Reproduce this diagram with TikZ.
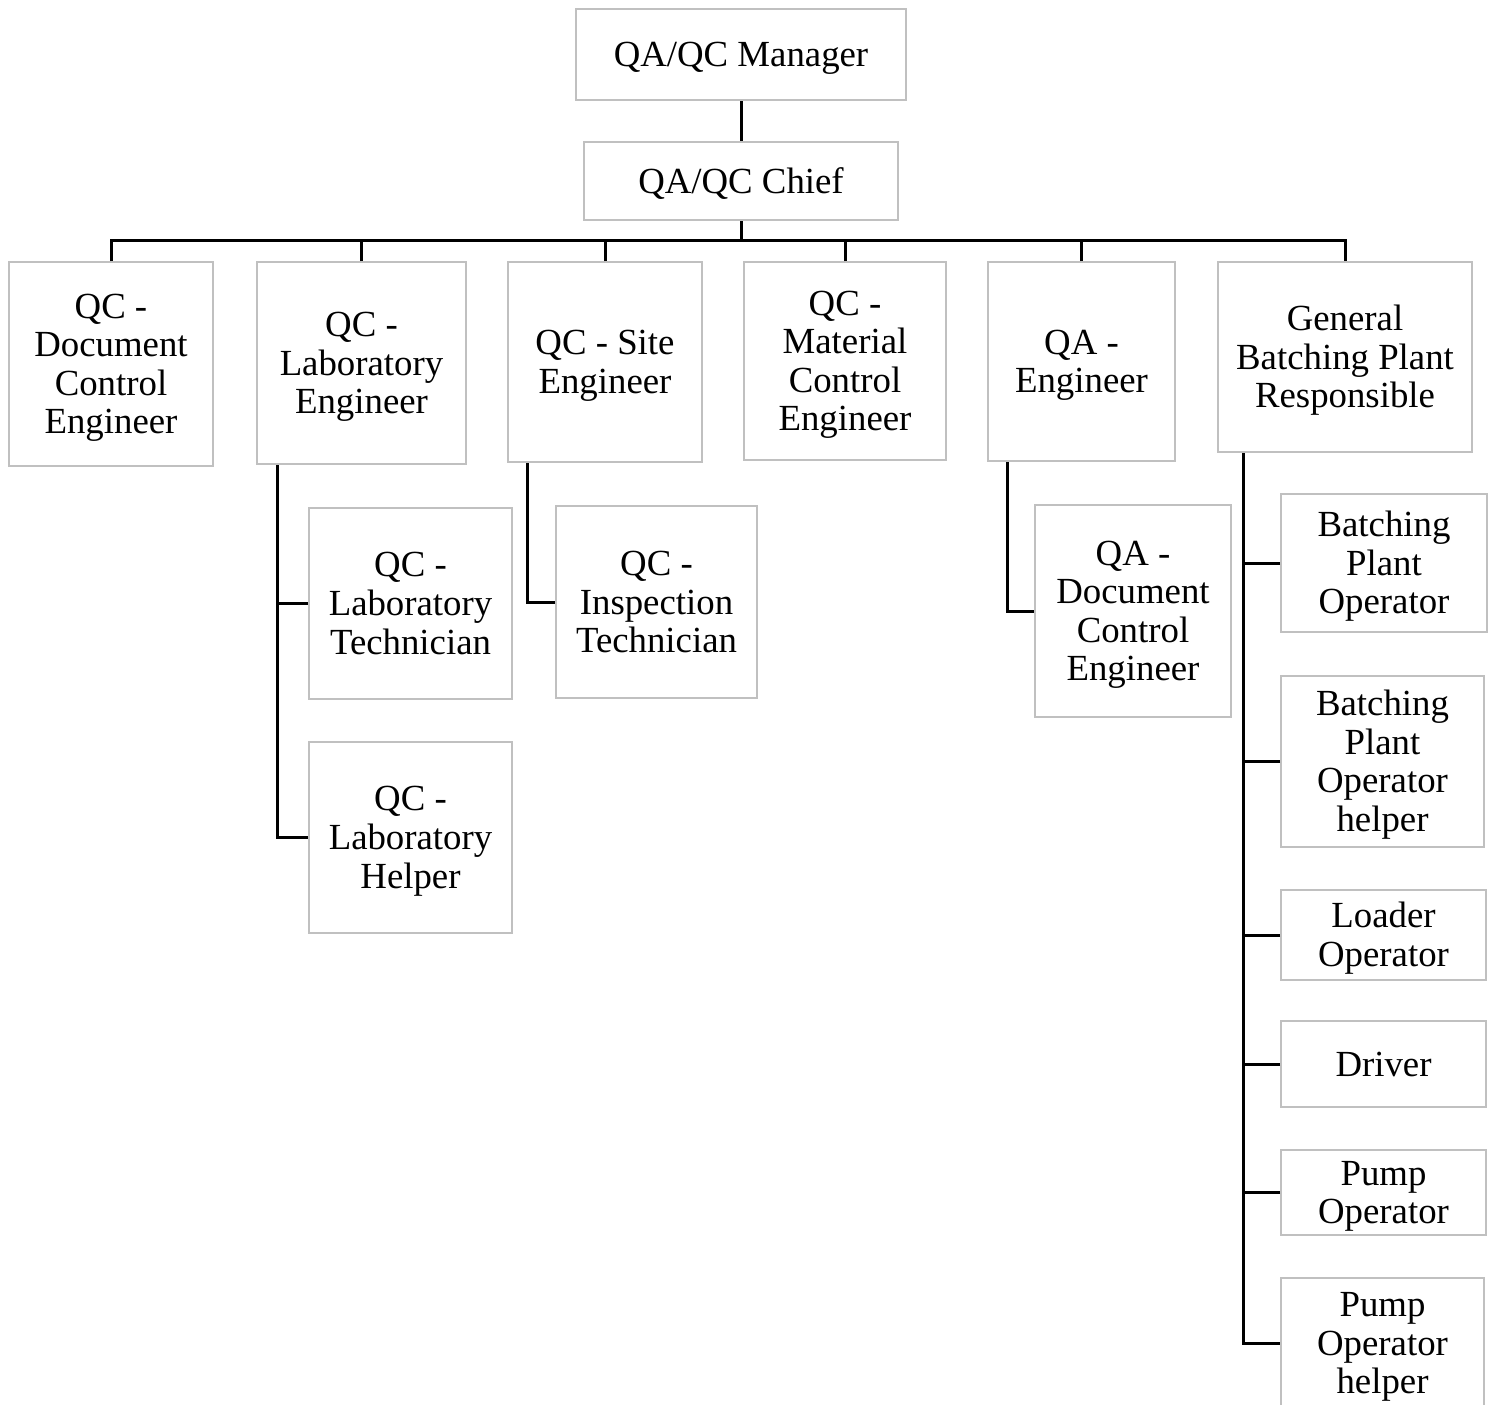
\documentclass[tikz,border=0pt]{standalone}
\usepackage{fontspec}
\setmainfont{Liberation Serif}
\definecolor{boxline}{RGB}{192,192,192}
% invisible struts: a fixed height for the first line, a fixed depth for the last
\newcommand{\topst}{\rule{0pt}{16.5pt}}
\newcommand{\botst}{\rule[-4.5pt]{0pt}{4.5pt}}
\begin{document}
\begin{tikzpicture}[x=0.5pt,y=-0.5pt,
  box/.style={draw=boxline, line width=1pt, rectangle, inner sep=0pt,
    align=center, font=\fontsize{18.4pt}{19.3pt}\selectfont},
  link/.style={draw=black, line width=1.5pt}]
\useasboundingbox (0,0) rectangle (1492,1404);

% top of the chart
\node[box, minimum width=165pt, minimum height=45.5pt] (mgr)   at (741,54.5) {\topst QA/QC Manager\botst};
\node[box, minimum width=157pt, minimum height=39pt]   (chief) at (741,181)  {\topst QA/QC Chief\botst};

% first level under the chief
\node[box, minimum width=102pt,   minimum height=102pt]  (qcdoc)  at (111,364)    {\topst QC -\\Document\\Control\\Engineer\botst};
\node[box, minimum width=104.5pt, minimum height=101pt]  (qclab)  at (361.5,363)  {\topst QC -\\Laboratory\\Engineer\botst};
\node[box, minimum width=97pt,    minimum height=100pt]  (qcsite) at (605,362)    {\topst QC - Site\\Engineer\botst};
\node[box, minimum width=101pt,   minimum height=99pt]   (qcmat)  at (845,361)    {\topst QC -\\Material\\Control\\Engineer\botst};
\node[box, minimum width=93.5pt,  minimum height=99.5pt] (qaeng)  at (1081.5,361.5) {\topst QA -\\Engineer\botst};
\node[box, minimum width=127pt,   minimum height=95pt]   (gbpr)   at (1345,357)   {\topst General\\Batching Plant\\Responsible\botst};

% laboratory staff
\node[box, minimum width=101.5pt, minimum height=95.5pt] (labtech) at (410.5,603.5) {\topst QC -\\Laboratory\\Technician\botst};
\node[box, minimum width=101.5pt, minimum height=95.5pt] (labhelp) at (410.5,837.5) {\topst QC -\\Laboratory\\Helper\botst};

% site inspection
\node[box, minimum width=100.5pt, minimum height=96pt] (insp) at (656.5,602) {\topst QC -\\Inspection\\Technician\botst};

% QA document control
\node[box, minimum width=98pt, minimum height=106pt] (qadoc) at (1133,611) {\topst QA -\\Document\\Control\\Engineer\botst};

% batching plant staff
\node[box, minimum width=103pt,   minimum height=69pt]   (bpo)    at (1384,563)    {\topst Batching\\Plant\\Operator\botst};
\node[box, minimum width=101.5pt, minimum height=85.5pt] (bpoh)   at (1382.5,761.5) {\topst Batching\\Plant\\Operator\\helper\botst};
\node[box, minimum width=102.5pt, minimum height=45pt]   (loader) at (1383.5,935)  {\topst Loader\\Operator\botst};
\node[box, minimum width=102.5pt, minimum height=43pt]   (driver) at (1383.5,1064) {\topst Driver\botst};
\node[box, minimum width=102.5pt, minimum height=42.5pt] (pump)   at (1383.5,1192.5) {\topst Pump\\Operator\botst};
\node[box, minimum width=101.5pt, minimum height=65pt]   (pumph)  at (1382.5,1343) {\topst Pump\\Operator\\helper\botst};

% manager to chief
\draw[link] (mgr.south) -- (chief.north);

% chief to the first level
\coordinate (bar) at (741,240);
\draw[link] (chief.south) -- (bar);
\draw[link] (qcdoc.north) |- (bar) -| (gbpr.north);
\foreach \n in {qclab,qcsite,qcmat,qaeng}
  \draw[link] (\n.north) -- (\n.north |- bar);

% laboratory branch
\coordinate (labtrunk) at ([xshift=10.5pt]qclab.south west);
\draw[link] (labtrunk) |- (labhelp.west);
\draw[link] (labtech.west) -- (labtech.west -| labtrunk);

% site branch
\coordinate (sitetrunk) at ([xshift=10pt]qcsite.south west);
\draw[link] (sitetrunk) |- (insp.west);

% QA branch
\coordinate (qatrunk) at ([xshift=10pt]qaeng.south west);
\draw[link] (qatrunk) |- (qadoc.west);

% batching plant branch
\coordinate (gtrunk) at ([xshift=13pt]gbpr.south west);
\draw[link] (gtrunk) |- (pumph.west);
\foreach \n in {bpo,bpoh,loader,driver,pump}
  \draw[link] (\n.west) -- (\n.west -| gtrunk);
\end{tikzpicture}
\end{document}
